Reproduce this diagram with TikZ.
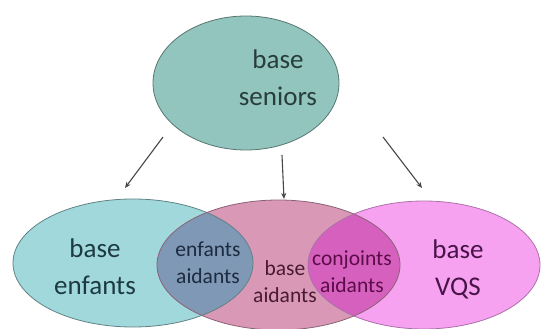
\documentclass[tikz,border=0pt]{standalone}
\usepackage{fontspec}
\setmainfont{Carlito}
\usetikzlibrary{shapes.geometric,arrows.meta}
\definecolor{topc}{RGB}{146,197,189}
\definecolor{leftc}{RGB}{160,216,220}
\definecolor{midc}{RGB}{216,152,182}
\definecolor{vqsc}{RGB}{246,162,240}
\definecolor{lensac}{RGB}{126,152,182}
\definecolor{lensbc}{RGB}{214,96,190}
\definecolor{toptx}{RGB}{40,62,62}
\definecolor{lefttx}{RGB}{28,58,64}
\definecolor{lensatx}{RGB}{30,42,62}
\definecolor{midtx}{RGB}{74,26,52}
\definecolor{lensbtx}{RGB}{92,12,72}
\definecolor{vqstx}{RGB}{72,20,72}
\definecolor{arrc}{RGB}{70,70,70}
\tikzset{
  outline/.style={ellipse, inner sep=0pt, line width=0.8pt},
  bigtxt/.style={align=center, inner sep=0pt, font=\fontsize{27}{37}\selectfont},
  smalltxt/.style={align=center, inner sep=0pt, font=\fontsize{21.5}{27}\selectfont},
  conn/.style={draw=arrc, line width=1.1pt, -{Stealth[length=6pt,width=5pt]}}
}
\begin{document}
\begin{tikzpicture}[x=1pt,y=-1pt]
\useasboundingbox (0,0) rectangle (542,329);
% fills
\fill[topc] (246,83) ellipse (93 and 67);
\fill[leftc] (133,263) ellipse (120 and 64);
\fill[midc] (278.5,265) ellipse (121.5 and 65);
\fill[vqsc] (424,265) ellipse (116 and 64);
\begin{scope}
  \clip (133,263) ellipse (120 and 64);
  \fill[lensac] (278.5,265) ellipse (121.5 and 65);
\end{scope}
\begin{scope}
  \clip (278.5,265) ellipse (121.5 and 65);
  \fill[lensbc] (424,265) ellipse (116 and 64);
\end{scope}
% outlines
\node[outline, draw=topc!60!black, minimum width=186pt, minimum height=134pt] (seniors) at (246,83) {};
\node[outline, draw=leftc!60!black, minimum width=240pt, minimum height=128pt] (enfants) at (133,263) {};
\node[outline, draw=midc!65!black, minimum width=243pt, minimum height=130pt] (aidants) at (278.5,265) {};
\node[outline, draw=vqsc!70!black, minimum width=232pt, minimum height=128pt] (vqs) at (424,265) {};
% texts
\node[bigtxt, text=toptx] (tseniors) at (278,78) {base\\seniors};
\node[bigtxt, text=lefttx] (tenfants) at (95,267) {base\\enfants};
\node[bigtxt, text=vqstx] (tvqs) at (458,269.5) {base\\VQS};
\node[smalltxt, text=midtx] (taidants) at (285,282) {base\\aidants};
\node[smalltxt, text=lensatx] (tlensa) at (208,262.5) {enfants\\aidants};
\node[smalltxt, text=lensbtx] (tlensb) at (352,271.5) {conjoints\\aidants};
% arrow ends
\coordinate (a1s) at (163,137);
\coordinate (a1e) at (125,188);
\coordinate (a2s) at (282,155);
\coordinate (a2e) at (284,199);
\coordinate (a3s) at (383,137);
\coordinate (a3e) at (422,188);
\draw[conn] (a1s) -- (a1e);
\draw[conn] (a2s) -- (a2e);
\draw[conn] (a3s) -- (a3e);
\end{tikzpicture}
\end{document}
